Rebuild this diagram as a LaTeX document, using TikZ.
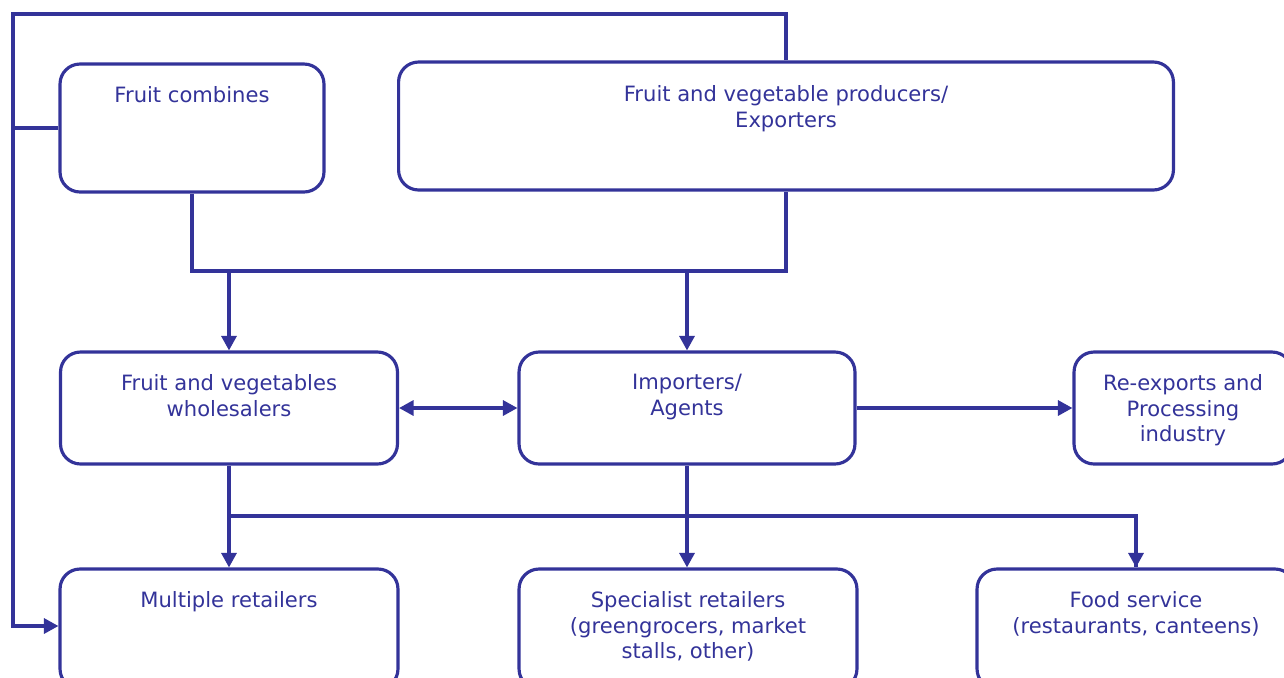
\documentclass[tikz,border=0pt]{standalone}
\usepackage{fontspec}
\setmainfont{DejaVu Sans}
\usetikzlibrary{arrows.meta}
\definecolor{chainblue}{HTML}{333399}
\begin{document}
\begin{tikzpicture}[x=0.02cm, y=-0.02cm, line width=1.8pt, draw=chainblue,
  box/.style={draw=chainblue, rounded corners=0.4cm, inner sep=0pt},
  txt/.style={text=chainblue, align=center, anchor=north, inner sep=0pt,
    font=\fontsize{12}{14.5}\selectfont},
  arr/.style={-{Triangle[length=0.29cm, width=0.3cm]}},
  both/.style={{Triangle[length=0.29cm, width=0.3cm]}-{Triangle[length=0.29cm, width=0.3cm]}}]

\useasboundingbox (0,0) rectangle (1284,677);

% Boxes
\node[box, minimum width=5.28cm, minimum height=2.56cm] (fc) at (192,128) {};
\node[box, minimum width=15.5cm, minimum height=2.56cm] (prod) at (786,126) {};
\node[box, minimum width=6.74cm, minimum height=2.24cm] (whole) at (229,408) {};
\node[box, minimum width=6.72cm, minimum height=2.24cm] (imp) at (687,408) {};
\node[box, minimum width=4.36cm, minimum height=2.24cm] (reexp) at (1183,408) {};
\node[box, minimum width=6.76cm, minimum height=2.4cm] (multi) at (229,629) {};
\node[box, minimum width=6.76cm, minimum height=2.4cm] (spec) at (688,629) {};
\node[box, minimum width=6.36cm, minimum height=2.4cm] (food) at (1136,629) {};

% Texts
\node[txt] (fc-t) at (192,85) {Fruit combines};
\node[txt] (prod-t) at (786,84) {Fruit and vegetable producers/\\Exporters};
\node[txt] (whole-t) at (229,373) {Fruit and vegetables\\wholesalers};
\node[txt] (imp-t) at (687,373) {Importers/\\Agents};
\node[txt] (reexp-t) at (1183,373) {Re-exports and\\Processing\\industry};
\node[txt] (multi-t) at (229,590) {Multiple retailers};
\node[txt] (spec-t) at (688,590) {Specialist retailers\\(greengrocers, market\\stalls, other)};
\node[txt] (food-t) at (1136,590) {Food service\\(restaurants, canteens)};

% Connectors
\coordinate (tl) at (13,14);
\coordinate (bus) at (0,271);
\coordinate (bus2) at (0,516);
\draw[arr] (prod.north) |- (tl) |- ([yshift=0.06cm]multi.west);
\draw (fc.west) -- (fc.west -| tl);
\draw (fc.south) |- (prod.south |- bus) -- (prod.south);
\draw[arr] (whole.north |- bus) -- (whole.north);
\draw[arr] (imp.north |- bus) -- (imp.north);
\draw[both] (whole) -- (imp);
\draw[arr] (imp) -- (reexp);
\draw[arr] (whole.south) -- (whole.south |- multi.north);
\draw[arr] (imp.south) -- (imp.south |- spec.north);
\draw (whole.south |- bus2) -| (food.north);
\draw[arr] (food.north |- bus2) -- (food.north);

\end{tikzpicture}
\end{document}
